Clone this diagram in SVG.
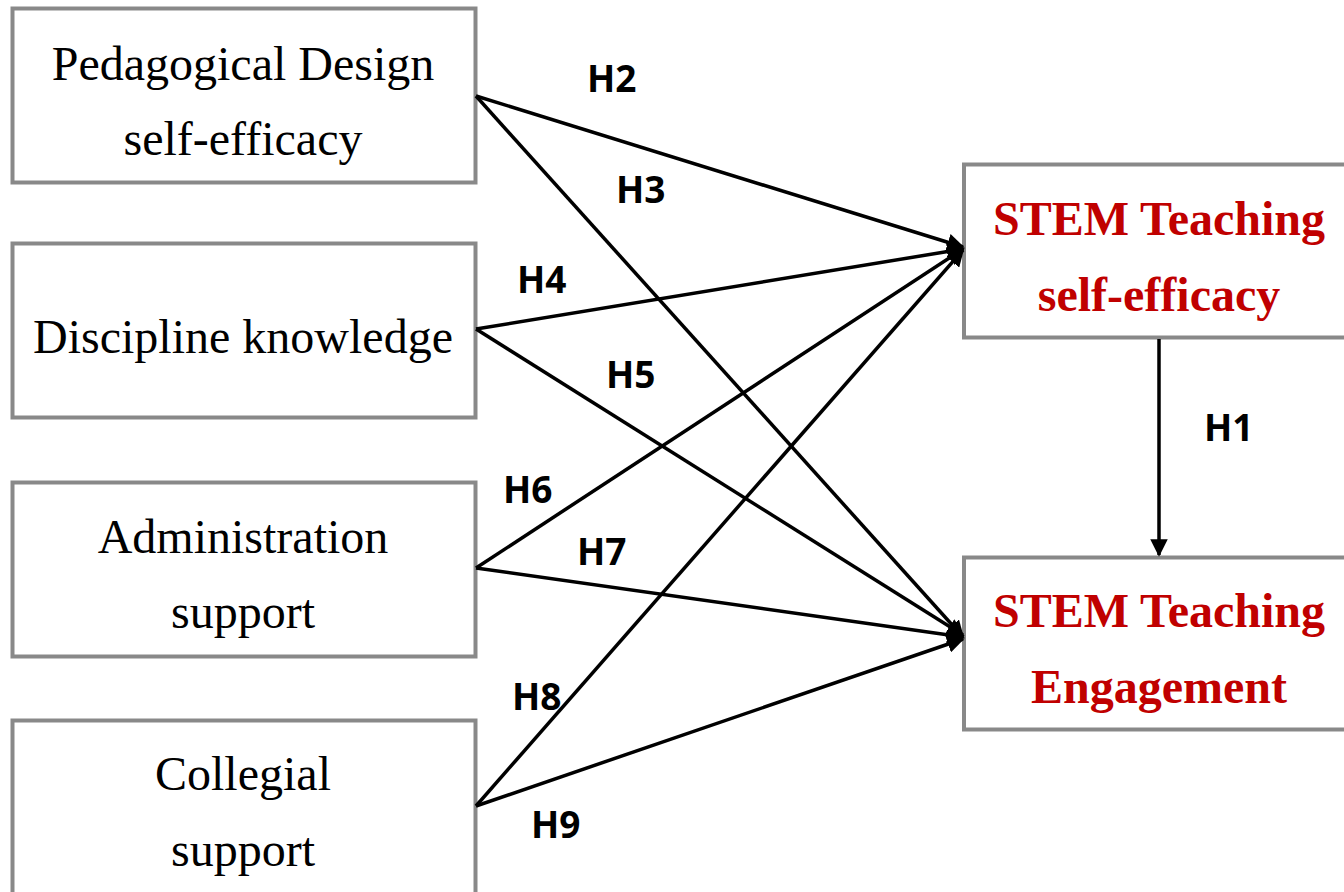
<svg xmlns="http://www.w3.org/2000/svg" width="1344" height="892" viewBox="0 0 1344 892">
<style>
.box{fill:#fff;stroke:#898989;stroke-width:4}
.t{font-family:"Liberation Serif",serif;font-size:48px;fill:#000;text-anchor:middle}
.r{font-family:"Liberation Serif",serif;font-size:48px;font-weight:bold;fill:#C00000;text-anchor:middle}
.h{font-family:"Open Sans","DejaVu Sans",sans-serif;font-size:37px;font-weight:bold;fill:#000}
.c{stroke:#000;stroke-width:3.5;fill:none;marker-end:url(#a)}
</style>
<defs>
<marker id="a" viewBox="0 0 10 10" refX="9" refY="5" markerWidth="5" markerHeight="5" orient="auto" markerUnits="strokeWidth">
<path d="M0,0L10,5L0,10z" fill="#000"/>
</marker>
</defs>
<rect width="1344" height="892" fill="#fff"/>
<g id="n1"><rect class="box" x="12.5" y="8.5" width="463" height="174"/>
<text class="t" x="243" y="80">Pedagogical Design</text><text class="t" x="243" y="155">self-efficacy</text></g>
<g id="n2"><rect class="box" x="12.5" y="243.5" width="463" height="174"/>
<text class="t" x="243" y="353">Discipline knowledge</text></g>
<g id="n3"><rect class="box" x="12.5" y="482.5" width="463" height="174"/>
<text class="t" x="243" y="553">Administration</text><text class="t" x="243" y="628">support</text></g>
<g id="n4"><rect class="box" x="12.5" y="720.5" width="463" height="180"/>
<text class="t" x="243" y="790">Collegial</text><text class="t" x="243" y="866">support</text></g>
<g id="n5"><rect class="box" x="964" y="164.5" width="390" height="173"/>
<text class="r" x="1159" y="235">STEM Teaching</text><text class="r" x="1159" y="311">self-efficacy</text></g>
<g id="n6"><rect class="box" x="964" y="557.5" width="390" height="172"/>
<text class="r" x="1159" y="627">STEM Teaching</text><text class="r" x="1159" y="703">Engagement</text></g>
<g id="connectors">
<line class="c" x1="476" y1="96" x2="963" y2="247"/>
<line class="c" x1="476" y1="96" x2="963" y2="637"/>
<line class="c" x1="476" y1="329" x2="963" y2="249"/>
<line class="c" x1="476" y1="329" x2="963" y2="635"/>
<line class="c" x1="476" y1="568" x2="963" y2="249"/>
<line class="c" x1="476" y1="568" x2="963" y2="637"/>
<line class="c" x1="476" y1="806" x2="963" y2="250"/>
<line class="c" x1="476" y1="806" x2="963" y2="639"/>
<line class="c" x1="1159" y1="339" x2="1159" y2="555"/>
</g>
<g id="labels">
<text class="h" x="587" y="92">H2</text>
<text class="h" x="616" y="203">H3</text>
<text class="h" x="517" y="293">H4</text>
<text class="h" x="606" y="388">H5</text>
<text class="h" x="503" y="503">H6</text>
<text class="h" x="577" y="565">H7</text>
<text class="h" x="512" y="710">H8</text>
<text class="h" x="531" y="838">H9</text>
<text class="h" x="1204" y="441">H1</text>
</g>
</svg>
